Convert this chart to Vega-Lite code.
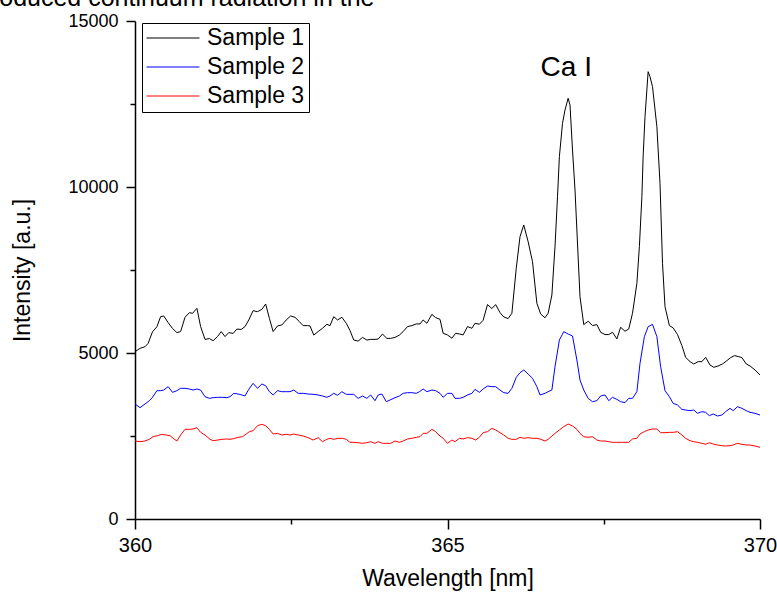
{
  "$schema": "https://vega.github.io/schema/vega-lite/v6.json",
  "width": 625,
  "height": 498,
  "autosize": {"type": "none"},
  "padding": {"left": 135, "top": 21, "right": 17, "bottom": 73},
  "background": "white",
  "config": {"view": {"stroke": null}, "font": "Liberation Sans"},
  "title": {
    "text": "produced continuum radiation in the",
    "anchor": "start",
    "frame": "group",
    "font": "Liberation Sans",
    "fontSize": 25,
    "fontWeight": "normal",
    "color": "black",
    "baseline": "alphabetic",
    "offset": 4,
    "dx": -158,
    "dy": 23
  },
  "datasets": {
    "spectra": [
      {"s":"Sample 1","w":360.00,"i":5040},{"s":"Sample 1","w":360.08,"i":5140},{"s":"Sample 1","w":360.16,"i":5190},{"s":"Sample 1","w":360.21,"i":5290},{"s":"Sample 1","w":360.28,"i":5640},{"s":"Sample 1","w":360.35,"i":5790},{"s":"Sample 1","w":360.41,"i":6095},{"s":"Sample 1","w":360.46,"i":6115},{"s":"Sample 1","w":360.53,"i":5915},{"s":"Sample 1","w":360.60,"i":5740},{"s":"Sample 1","w":360.67,"i":5615},{"s":"Sample 1","w":360.73,"i":5645},{"s":"Sample 1","w":360.80,"i":6075},{"s":"Sample 1","w":360.87,"i":6215},{"s":"Sample 1","w":360.92,"i":6195},{"s":"Sample 1","w":360.99,"i":6345},{"s":"Sample 1","w":361.05,"i":5795},{"s":"Sample 1","w":361.12,"i":5410},{"s":"Sample 1","w":361.19,"i":5435},{"s":"Sample 1","w":361.25,"i":5370},{"s":"Sample 1","w":361.32,"i":5495},{"s":"Sample 1","w":361.38,"i":5645},{"s":"Sample 1","w":361.44,"i":5495},{"s":"Sample 1","w":361.50,"i":5615},{"s":"Sample 1","w":361.57,"i":5590},{"s":"Sample 1","w":361.63,"i":5720},{"s":"Sample 1","w":361.70,"i":5710},{"s":"Sample 1","w":361.76,"i":5795},{"s":"Sample 1","w":361.82,"i":5995},{"s":"Sample 1","w":361.89,"i":6275},{"s":"Sample 1","w":361.96,"i":6245},{"s":"Sample 1","w":362.03,"i":6315},{"s":"Sample 1","w":362.09,"i":6475},{"s":"Sample 1","w":362.15,"i":6045},{"s":"Sample 1","w":362.21,"i":5645},{"s":"Sample 1","w":362.28,"i":5815},{"s":"Sample 1","w":362.35,"i":5845},{"s":"Sample 1","w":362.42,"i":5995},{"s":"Sample 1","w":362.49,"i":6115},{"s":"Sample 1","w":362.56,"i":6075},{"s":"Sample 1","w":362.63,"i":5945},{"s":"Sample 1","w":362.69,"i":5825},{"s":"Sample 1","w":362.76,"i":5825},{"s":"Sample 1","w":362.80,"i":5815},{"s":"Sample 1","w":362.86,"i":5540},{"s":"Sample 1","w":362.93,"i":5645},{"s":"Sample 1","w":363.00,"i":5745},{"s":"Sample 1","w":363.07,"i":5865},{"s":"Sample 1","w":363.12,"i":5825},{"s":"Sample 1","w":363.18,"i":6095},{"s":"Sample 1","w":363.24,"i":5995},{"s":"Sample 1","w":363.31,"i":6075},{"s":"Sample 1","w":363.38,"i":5895},{"s":"Sample 1","w":363.44,"i":5675},{"s":"Sample 1","w":363.50,"i":5390},{"s":"Sample 1","w":363.57,"i":5360},{"s":"Sample 1","w":363.64,"i":5470},{"s":"Sample 1","w":363.71,"i":5390},{"s":"Sample 1","w":363.77,"i":5410},{"s":"Sample 1","w":363.84,"i":5410},{"s":"Sample 1","w":363.89,"i":5420},{"s":"Sample 1","w":363.96,"i":5570},{"s":"Sample 1","w":364.03,"i":5440},{"s":"Sample 1","w":364.09,"i":5440},{"s":"Sample 1","w":364.16,"i":5470},{"s":"Sample 1","w":364.23,"i":5540},{"s":"Sample 1","w":364.29,"i":5645},{"s":"Sample 1","w":364.36,"i":5795},{"s":"Sample 1","w":364.43,"i":5825},{"s":"Sample 1","w":364.50,"i":5875},{"s":"Sample 1","w":364.56,"i":5875},{"s":"Sample 1","w":364.61,"i":5995},{"s":"Sample 1","w":364.67,"i":5895},{"s":"Sample 1","w":364.75,"i":6165},{"s":"Sample 1","w":364.81,"i":6065},{"s":"Sample 1","w":364.88,"i":6015},{"s":"Sample 1","w":364.93,"i":5594},{"s":"Sample 1","w":365.00,"i":5544},{"s":"Sample 1","w":365.07,"i":5444},{"s":"Sample 1","w":365.13,"i":5594},{"s":"Sample 1","w":365.19,"i":5574},{"s":"Sample 1","w":365.25,"i":5544},{"s":"Sample 1","w":365.32,"i":5795},{"s":"Sample 1","w":365.39,"i":5745},{"s":"Sample 1","w":365.44,"i":5896},{"s":"Sample 1","w":365.51,"i":5866},{"s":"Sample 1","w":365.57,"i":5986},{"s":"Sample 1","w":365.64,"i":6459},{"s":"Sample 1","w":365.71,"i":6338},{"s":"Sample 1","w":365.77,"i":6459},{"s":"Sample 1","w":365.84,"i":6217},{"s":"Sample 1","w":365.90,"i":6086},{"s":"Sample 1","w":365.97,"i":6036},{"s":"Sample 1","w":366.03,"i":6196},{"s":"Sample 1","w":366.10,"i":7551},{"s":"Sample 1","w":366.16,"i":8503},{"s":"Sample 1","w":366.22,"i":8855},{"s":"Sample 1","w":366.29,"i":8353},{"s":"Sample 1","w":366.36,"i":7751},{"s":"Sample 1","w":366.43,"i":6497},{"s":"Sample 1","w":366.49,"i":6174},{"s":"Sample 1","w":366.56,"i":6063},{"s":"Sample 1","w":366.61,"i":6196},{"s":"Sample 1","w":366.67,"i":6747},{"s":"Sample 1","w":366.72,"i":8202},{"s":"Sample 1","w":366.76,"i":9708},{"s":"Sample 1","w":366.79,"i":10913},{"s":"Sample 1","w":366.84,"i":11918},{"s":"Sample 1","w":366.88,"i":12319},{"s":"Sample 1","w":366.93,"i":12672},{"s":"Sample 1","w":366.96,"i":12470},{"s":"Sample 1","w":367.00,"i":11114},{"s":"Sample 1","w":367.04,"i":9910},{"s":"Sample 1","w":367.07,"i":8705},{"s":"Sample 1","w":367.12,"i":6696},{"s":"Sample 1","w":367.18,"i":5856},{"s":"Sample 1","w":367.25,"i":5956},{"s":"Sample 1","w":367.32,"i":5826},{"s":"Sample 1","w":367.39,"i":5856},{"s":"Sample 1","w":367.45,"i":5625},{"s":"Sample 1","w":367.52,"i":5555},{"s":"Sample 1","w":367.58,"i":5555},{"s":"Sample 1","w":367.64,"i":5625},{"s":"Sample 1","w":367.71,"i":5424},{"s":"Sample 1","w":367.77,"i":5775},{"s":"Sample 1","w":367.84,"i":5655},{"s":"Sample 1","w":367.90,"i":5725},{"s":"Sample 1","w":367.96,"i":6196},{"s":"Sample 1","w":368.03,"i":7100},{"s":"Sample 1","w":368.07,"i":8202},{"s":"Sample 1","w":368.11,"i":9708},{"s":"Sample 1","w":368.13,"i":10913},{"s":"Sample 1","w":368.16,"i":12118},{"s":"Sample 1","w":368.21,"i":13474},{"s":"Sample 1","w":368.24,"i":13323},{"s":"Sample 1","w":368.28,"i":13022},{"s":"Sample 1","w":368.35,"i":11817},{"s":"Sample 1","w":368.40,"i":10111},{"s":"Sample 1","w":368.44,"i":7702},{"s":"Sample 1","w":368.48,"i":6395},{"s":"Sample 1","w":368.55,"i":5826},{"s":"Sample 1","w":368.61,"i":5756},{"s":"Sample 1","w":368.68,"i":5555},{"s":"Sample 1","w":368.75,"i":5224},{"s":"Sample 1","w":368.81,"i":4870},{"s":"Sample 1","w":368.88,"i":4739},{"s":"Sample 1","w":368.94,"i":4669},{"s":"Sample 1","w":369.01,"i":4739},{"s":"Sample 1","w":369.07,"i":4739},{"s":"Sample 1","w":369.13,"i":4870},{"s":"Sample 1","w":369.20,"i":4639},{"s":"Sample 1","w":369.26,"i":4569},{"s":"Sample 1","w":369.33,"i":4609},{"s":"Sample 1","w":369.40,"i":4669},{"s":"Sample 1","w":369.47,"i":4769},{"s":"Sample 1","w":369.53,"i":4860},{"s":"Sample 1","w":369.59,"i":4920},{"s":"Sample 1","w":369.66,"i":4890},{"s":"Sample 1","w":369.71,"i":4860},{"s":"Sample 1","w":369.78,"i":4669},{"s":"Sample 1","w":369.84,"i":4609},{"s":"Sample 1","w":369.92,"i":4489},{"s":"Sample 1","w":370.00,"i":4338},

      {"s":"Sample 2","w":360.00,"i":3464},{"s":"Sample 2","w":360.08,"i":3354},{"s":"Sample 2","w":360.16,"i":3464},{"s":"Sample 2","w":360.23,"i":3564},{"s":"Sample 2","w":360.28,"i":3665},{"s":"Sample 2","w":360.35,"i":3865},{"s":"Sample 2","w":360.41,"i":3865},{"s":"Sample 2","w":360.46,"i":3885},{"s":"Sample 2","w":360.53,"i":3986},{"s":"Sample 2","w":360.60,"i":3815},{"s":"Sample 2","w":360.67,"i":3865},{"s":"Sample 2","w":360.73,"i":3936},{"s":"Sample 2","w":360.80,"i":3936},{"s":"Sample 2","w":360.87,"i":3916},{"s":"Sample 2","w":360.93,"i":3885},{"s":"Sample 2","w":360.99,"i":3916},{"s":"Sample 2","w":361.05,"i":3885},{"s":"Sample 2","w":361.12,"i":3685},{"s":"Sample 2","w":361.19,"i":3634},{"s":"Sample 2","w":361.25,"i":3654},{"s":"Sample 2","w":361.32,"i":3665},{"s":"Sample 2","w":361.39,"i":3665},{"s":"Sample 2","w":361.47,"i":3654},{"s":"Sample 2","w":361.52,"i":3685},{"s":"Sample 2","w":361.58,"i":3785},{"s":"Sample 2","w":361.65,"i":3765},{"s":"Sample 2","w":361.71,"i":3735},{"s":"Sample 2","w":361.76,"i":3705},{"s":"Sample 2","w":361.82,"i":3905},{"s":"Sample 2","w":361.89,"i":4086},{"s":"Sample 2","w":361.96,"i":3936},{"s":"Sample 2","w":362.03,"i":4066},{"s":"Sample 2","w":362.09,"i":4016},{"s":"Sample 2","w":362.15,"i":3835},{"s":"Sample 2","w":362.21,"i":3735},{"s":"Sample 2","w":362.28,"i":3865},{"s":"Sample 2","w":362.35,"i":3835},{"s":"Sample 2","w":362.42,"i":3835},{"s":"Sample 2","w":362.48,"i":3835},{"s":"Sample 2","w":362.54,"i":3885},{"s":"Sample 2","w":362.61,"i":3785},{"s":"Sample 2","w":362.69,"i":3785},{"s":"Sample 2","w":362.77,"i":3765},{"s":"Sample 2","w":362.85,"i":3755},{"s":"Sample 2","w":362.93,"i":3735},{"s":"Sample 2","w":363.00,"i":3705},{"s":"Sample 2","w":363.07,"i":3665},{"s":"Sample 2","w":363.12,"i":3705},{"s":"Sample 2","w":363.18,"i":3785},{"s":"Sample 2","w":363.24,"i":3725},{"s":"Sample 2","w":363.31,"i":3835},{"s":"Sample 2","w":363.38,"i":3755},{"s":"Sample 2","w":363.44,"i":3755},{"s":"Sample 2","w":363.50,"i":3755},{"s":"Sample 2","w":363.57,"i":3634},{"s":"Sample 2","w":363.64,"i":3705},{"s":"Sample 2","w":363.71,"i":3634},{"s":"Sample 2","w":363.77,"i":3735},{"s":"Sample 2","w":363.84,"i":3564},{"s":"Sample 2","w":363.89,"i":3735},{"s":"Sample 2","w":363.95,"i":3765},{"s":"Sample 2","w":364.02,"i":3534},{"s":"Sample 2","w":364.08,"i":3584},{"s":"Sample 2","w":364.16,"i":3654},{"s":"Sample 2","w":364.23,"i":3705},{"s":"Sample 2","w":364.29,"i":3785},{"s":"Sample 2","w":364.36,"i":3805},{"s":"Sample 2","w":364.43,"i":3805},{"s":"Sample 2","w":364.50,"i":3785},{"s":"Sample 2","w":364.55,"i":3835},{"s":"Sample 2","w":364.61,"i":3916},{"s":"Sample 2","w":364.67,"i":3835},{"s":"Sample 2","w":364.75,"i":3885},{"s":"Sample 2","w":364.81,"i":3865},{"s":"Sample 2","w":364.88,"i":3785},{"s":"Sample 2","w":364.93,"i":3665},{"s":"Sample 2","w":365.00,"i":3785},{"s":"Sample 2","w":365.07,"i":3785},{"s":"Sample 2","w":365.12,"i":3634},{"s":"Sample 2","w":365.19,"i":3634},{"s":"Sample 2","w":365.25,"i":3665},{"s":"Sample 2","w":365.32,"i":3735},{"s":"Sample 2","w":365.39,"i":3785},{"s":"Sample 2","w":365.44,"i":3905},{"s":"Sample 2","w":365.51,"i":3815},{"s":"Sample 2","w":365.57,"i":3916},{"s":"Sample 2","w":365.64,"i":4006},{"s":"Sample 2","w":365.71,"i":3986},{"s":"Sample 2","w":365.77,"i":3986},{"s":"Sample 2","w":365.84,"i":3885},{"s":"Sample 2","w":365.90,"i":3805},{"s":"Sample 2","w":365.97,"i":3785},{"s":"Sample 2","w":366.03,"i":3936},{"s":"Sample 2","w":366.10,"i":4267},{"s":"Sample 2","w":366.16,"i":4407},{"s":"Sample 2","w":366.22,"i":4488},{"s":"Sample 2","w":366.29,"i":4367},{"s":"Sample 2","w":366.36,"i":4237},{"s":"Sample 2","w":366.43,"i":3986},{"s":"Sample 2","w":366.48,"i":3735},{"s":"Sample 2","w":366.56,"i":3785},{"s":"Sample 2","w":366.61,"i":3835},{"s":"Sample 2","w":366.67,"i":3885},{"s":"Sample 2","w":366.72,"i":4588},{"s":"Sample 2","w":366.79,"i":5391},{"s":"Sample 2","w":366.86,"i":5642},{"s":"Sample 2","w":366.93,"i":5572},{"s":"Sample 2","w":367.00,"i":5512},{"s":"Sample 2","w":367.07,"i":4789},{"s":"Sample 2","w":367.12,"i":4187},{"s":"Sample 2","w":367.18,"i":3885},{"s":"Sample 2","w":367.25,"i":3634},{"s":"Sample 2","w":367.32,"i":3534},{"s":"Sample 2","w":367.39,"i":3564},{"s":"Sample 2","w":367.45,"i":3705},{"s":"Sample 2","w":367.52,"i":3735},{"s":"Sample 2","w":367.58,"i":3564},{"s":"Sample 2","w":367.64,"i":3665},{"s":"Sample 2","w":367.71,"i":3604},{"s":"Sample 2","w":367.77,"i":3534},{"s":"Sample 2","w":367.84,"i":3504},{"s":"Sample 2","w":367.90,"i":3634},{"s":"Sample 2","w":367.96,"i":3634},{"s":"Sample 2","w":368.03,"i":3835},{"s":"Sample 2","w":368.08,"i":4689},{"s":"Sample 2","w":368.15,"i":5492},{"s":"Sample 2","w":368.21,"i":5793},{"s":"Sample 2","w":368.28,"i":5863},{"s":"Sample 2","w":368.35,"i":5492},{"s":"Sample 2","w":368.41,"i":4588},{"s":"Sample 2","w":368.48,"i":3865},{"s":"Sample 2","w":368.55,"i":3685},{"s":"Sample 2","w":368.61,"i":3484},{"s":"Sample 2","w":368.68,"i":3434},{"s":"Sample 2","w":368.75,"i":3303},{"s":"Sample 2","w":368.81,"i":3283},{"s":"Sample 2","w":368.88,"i":3263},{"s":"Sample 2","w":368.94,"i":3283},{"s":"Sample 2","w":369.00,"i":3183},{"s":"Sample 2","w":369.07,"i":3233},{"s":"Sample 2","w":369.13,"i":3213},{"s":"Sample 2","w":369.19,"i":3112},{"s":"Sample 2","w":369.25,"i":3163},{"s":"Sample 2","w":369.32,"i":3102},{"s":"Sample 2","w":369.39,"i":3132},{"s":"Sample 2","w":369.45,"i":3233},{"s":"Sample 2","w":369.52,"i":3333},{"s":"Sample 2","w":369.57,"i":3263},{"s":"Sample 2","w":369.64,"i":3384},{"s":"Sample 2","w":369.71,"i":3333},{"s":"Sample 2","w":369.78,"i":3263},{"s":"Sample 2","w":369.84,"i":3213},{"s":"Sample 2","w":369.92,"i":3183},{"s":"Sample 2","w":370.00,"i":3132},

      {"s":"Sample 3","w":360.00,"i":2349},{"s":"Sample 3","w":360.08,"i":2329},{"s":"Sample 3","w":360.16,"i":2349},{"s":"Sample 3","w":360.23,"i":2400},{"s":"Sample 3","w":360.29,"i":2480},{"s":"Sample 3","w":360.36,"i":2510},{"s":"Sample 3","w":360.43,"i":2550},{"s":"Sample 3","w":360.50,"i":2530},{"s":"Sample 3","w":360.56,"i":2510},{"s":"Sample 3","w":360.61,"i":2430},{"s":"Sample 3","w":360.67,"i":2349},{"s":"Sample 3","w":360.73,"i":2530},{"s":"Sample 3","w":360.80,"i":2701},{"s":"Sample 3","w":360.87,"i":2701},{"s":"Sample 3","w":360.93,"i":2711},{"s":"Sample 3","w":360.99,"i":2751},{"s":"Sample 3","w":361.05,"i":2610},{"s":"Sample 3","w":361.12,"i":2530},{"s":"Sample 3","w":361.20,"i":2400},{"s":"Sample 3","w":361.25,"i":2359},{"s":"Sample 3","w":361.32,"i":2379},{"s":"Sample 3","w":361.39,"i":2400},{"s":"Sample 3","w":361.47,"i":2410},{"s":"Sample 3","w":361.52,"i":2400},{"s":"Sample 3","w":361.58,"i":2420},{"s":"Sample 3","w":361.65,"i":2460},{"s":"Sample 3","w":361.72,"i":2480},{"s":"Sample 3","w":361.78,"i":2560},{"s":"Sample 3","w":361.83,"i":2631},{"s":"Sample 3","w":361.89,"i":2661},{"s":"Sample 3","w":361.96,"i":2811},{"s":"Sample 3","w":362.03,"i":2851},{"s":"Sample 3","w":362.09,"i":2811},{"s":"Sample 3","w":362.15,"i":2701},{"s":"Sample 3","w":362.21,"i":2560},{"s":"Sample 3","w":362.28,"i":2580},{"s":"Sample 3","w":362.35,"i":2530},{"s":"Sample 3","w":362.42,"i":2550},{"s":"Sample 3","w":362.48,"i":2530},{"s":"Sample 3","w":362.54,"i":2560},{"s":"Sample 3","w":362.61,"i":2530},{"s":"Sample 3","w":362.69,"i":2500},{"s":"Sample 3","w":362.77,"i":2450},{"s":"Sample 3","w":362.85,"i":2379},{"s":"Sample 3","w":362.93,"i":2450},{"s":"Sample 3","w":363.00,"i":2329},{"s":"Sample 3","w":363.07,"i":2400},{"s":"Sample 3","w":363.12,"i":2430},{"s":"Sample 3","w":363.18,"i":2400},{"s":"Sample 3","w":363.25,"i":2430},{"s":"Sample 3","w":363.32,"i":2430},{"s":"Sample 3","w":363.38,"i":2400},{"s":"Sample 3","w":363.44,"i":2309},{"s":"Sample 3","w":363.50,"i":2309},{"s":"Sample 3","w":363.57,"i":2299},{"s":"Sample 3","w":363.64,"i":2279},{"s":"Sample 3","w":363.71,"i":2299},{"s":"Sample 3","w":363.77,"i":2329},{"s":"Sample 3","w":363.84,"i":2279},{"s":"Sample 3","w":363.89,"i":2329},{"s":"Sample 3","w":363.96,"i":2279},{"s":"Sample 3","w":364.03,"i":2279},{"s":"Sample 3","w":364.09,"i":2279},{"s":"Sample 3","w":364.16,"i":2349},{"s":"Sample 3","w":364.23,"i":2309},{"s":"Sample 3","w":364.29,"i":2349},{"s":"Sample 3","w":364.36,"i":2410},{"s":"Sample 3","w":364.43,"i":2430},{"s":"Sample 3","w":364.50,"i":2460},{"s":"Sample 3","w":364.56,"i":2480},{"s":"Sample 3","w":364.61,"i":2580},{"s":"Sample 3","w":364.67,"i":2580},{"s":"Sample 3","w":364.75,"i":2701},{"s":"Sample 3","w":364.81,"i":2631},{"s":"Sample 3","w":364.88,"i":2500},{"s":"Sample 3","w":364.93,"i":2430},{"s":"Sample 3","w":365.00,"i":2279},{"s":"Sample 3","w":365.07,"i":2379},{"s":"Sample 3","w":365.12,"i":2329},{"s":"Sample 3","w":365.19,"i":2430},{"s":"Sample 3","w":365.25,"i":2410},{"s":"Sample 3","w":365.32,"i":2450},{"s":"Sample 3","w":365.39,"i":2430},{"s":"Sample 3","w":365.45,"i":2379},{"s":"Sample 3","w":365.51,"i":2460},{"s":"Sample 3","w":365.57,"i":2600},{"s":"Sample 3","w":365.64,"i":2631},{"s":"Sample 3","w":365.71,"i":2731},{"s":"Sample 3","w":365.77,"i":2681},{"s":"Sample 3","w":365.84,"i":2600},{"s":"Sample 3","w":365.90,"i":2530},{"s":"Sample 3","w":365.97,"i":2430},{"s":"Sample 3","w":366.03,"i":2400},{"s":"Sample 3","w":366.10,"i":2400},{"s":"Sample 3","w":366.16,"i":2460},{"s":"Sample 3","w":366.22,"i":2430},{"s":"Sample 3","w":366.29,"i":2450},{"s":"Sample 3","w":366.36,"i":2430},{"s":"Sample 3","w":366.43,"i":2430},{"s":"Sample 3","w":366.48,"i":2410},{"s":"Sample 3","w":366.56,"i":2349},{"s":"Sample 3","w":366.61,"i":2400},{"s":"Sample 3","w":366.67,"i":2500},{"s":"Sample 3","w":366.72,"i":2580},{"s":"Sample 3","w":366.79,"i":2681},{"s":"Sample 3","w":366.86,"i":2781},{"s":"Sample 3","w":366.93,"i":2861},{"s":"Sample 3","w":367.00,"i":2801},{"s":"Sample 3","w":367.07,"i":2701},{"s":"Sample 3","w":367.12,"i":2580},{"s":"Sample 3","w":367.18,"i":2480},{"s":"Sample 3","w":367.25,"i":2460},{"s":"Sample 3","w":367.32,"i":2480},{"s":"Sample 3","w":367.39,"i":2379},{"s":"Sample 3","w":367.45,"i":2349},{"s":"Sample 3","w":367.52,"i":2349},{"s":"Sample 3","w":367.58,"i":2329},{"s":"Sample 3","w":367.64,"i":2309},{"s":"Sample 3","w":367.71,"i":2309},{"s":"Sample 3","w":367.77,"i":2309},{"s":"Sample 3","w":367.84,"i":2309},{"s":"Sample 3","w":367.90,"i":2309},{"s":"Sample 3","w":367.96,"i":2410},{"s":"Sample 3","w":368.03,"i":2430},{"s":"Sample 3","w":368.08,"i":2560},{"s":"Sample 3","w":368.15,"i":2631},{"s":"Sample 3","w":368.21,"i":2681},{"s":"Sample 3","w":368.28,"i":2711},{"s":"Sample 3","w":368.35,"i":2711},{"s":"Sample 3","w":368.41,"i":2600},{"s":"Sample 3","w":368.48,"i":2600},{"s":"Sample 3","w":368.55,"i":2610},{"s":"Sample 3","w":368.61,"i":2610},{"s":"Sample 3","w":368.68,"i":2631},{"s":"Sample 3","w":368.75,"i":2530},{"s":"Sample 3","w":368.81,"i":2430},{"s":"Sample 3","w":368.88,"i":2359},{"s":"Sample 3","w":368.94,"i":2329},{"s":"Sample 3","w":369.00,"i":2309},{"s":"Sample 3","w":369.07,"i":2279},{"s":"Sample 3","w":369.13,"i":2249},{"s":"Sample 3","w":369.19,"i":2299},{"s":"Sample 3","w":369.25,"i":2259},{"s":"Sample 3","w":369.32,"i":2229},{"s":"Sample 3","w":369.39,"i":2209},{"s":"Sample 3","w":369.45,"i":2199},{"s":"Sample 3","w":369.52,"i":2209},{"s":"Sample 3","w":369.57,"i":2229},{"s":"Sample 3","w":369.64,"i":2279},{"s":"Sample 3","w":369.71,"i":2249},{"s":"Sample 3","w":369.78,"i":2229},{"s":"Sample 3","w":369.84,"i":2229},{"s":"Sample 3","w":369.92,"i":2199},{"s":"Sample 3","w":370.00,"i":2159}
    ],
    "labels": [{"w": 366.9, "i": 13343, "t": "Ca I"}]
  },
  "layer": [
    {
      "data": {"name": "spectra"},
      "mark": {"type": "line", "strokeWidth": 1, "interpolate": "linear"},
      "encoding": {
        "x": {
          "field": "w", "type": "quantitative",
          "scale": {"domain": [360, 370], "nice": false, "zero": false},
          "axis": {
            "title": "Wavelength [nm]",
            "values": [360, 362.5, 365, 367.5, 370],
            "format": "d",
            "labelExpr": "datum.value % 5 === 0 ? datum.label : ''",
            "tickSize": {"condition": {"test": "datum.value % 5 === 0", "value": 10}, "value": 5},
            "labelFont": "Liberation Sans", "labelFontSize": 20, "labelColor": "black",
            "labelPadding": 6, "labelFlush": false, "labelOverlap": false, "labelBound": false,
            "domainColor": "black", "domainWidth": 1.5,
            "tickColor": "black", "tickWidth": 1.5,
            "titleFont": "Liberation Sans", "titleFontSize": 23, "titleFontWeight": "normal",
            "titleColor": "black", "titlePadding": 12, "grid": false
          }
        },
        "y": {
          "field": "i", "type": "quantitative",
          "scale": {"domain": [0, 15000], "nice": false},
          "axis": {
            "title": "Intensity [a.u.]",
            "values": [0, 2500, 5000, 7500, 10000, 12500, 15000],
            "format": "d",
            "labelExpr": "datum.value % 5000 === 0 ? datum.label : ''",
            "tickSize": {"condition": {"test": "datum.value % 5000 === 0", "value": 9}, "value": 5},
            "labelFont": "Liberation Sans", "labelFontSize": 18, "labelColor": "black",
            "labelPadding": 8, "labelOverlap": false, "labelBound": false, "labelFlush": false,
            "domainColor": "black", "domainWidth": 1.5,
            "tickColor": "black", "tickWidth": 1.5,
            "titleFont": "Liberation Sans", "titleFontSize": 23, "titleFontWeight": "normal",
            "titleColor": "black", "titlePadding": 33, "grid": false
          }
        },
        "color": {
          "field": "s", "type": "nominal",
          "scale": {"domain": ["Sample 1", "Sample 2", "Sample 3"], "range": ["#000000", "#0000ff", "#ff0000"]},
          "legend": {
            "title": null,
            "orient": "none", "legendX": 7, "legendY": 2,
            "strokeColor": "black", "fillColor": "white", "padding": 4,
            "symbolType": "stroke", "symbolSize": 2809, "symbolStrokeWidth": 1,
            "clipHeight": 22, "rowPadding": 6,
            "labelFont": "Liberation Sans", "labelFontSize": 23, "labelColor": "black",
            "labelOffset": 7
          }
        }
      }
    },
    {
      "data": {"name": "labels"},
      "mark": {"type": "text", "font": "Liberation Sans", "fontSize": 28, "align": "center", "baseline": "alphabetic", "color": "black"},
      "encoding": {
        "x": {"field": "w", "type": "quantitative"},
        "y": {"field": "i", "type": "quantitative"},
        "text": {"field": "t"}
      }
    }
  ]
}
